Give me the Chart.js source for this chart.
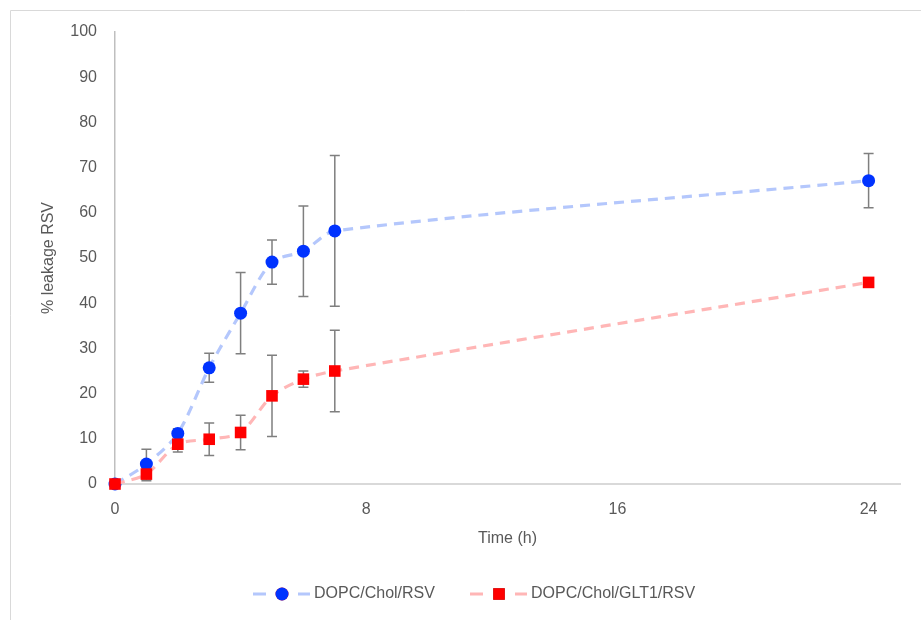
<!DOCTYPE html>
<html>
<head>
<meta charset="utf-8">
<script src="https://cdn.jsdelivr.net/npm/chart.js@4/dist/chart.umd.min.js"></script>
<style>
html,body{margin:0;padding:0;background:#fff;}
#wrap{position:relative;width:921px;height:620px;}
</style>
</head>
<body>
<div id="wrap"><canvas id="c" width="921" height="620"></canvas></div>
<script>
const times = [0, 1, 2, 3, 4, 5, 6, 7, 24];
const blueValues = [0, 4.4, 11.2, 25.7, 37.8, 49.1, 51.5, 56.0, 67.1];
const blueErrors = [0, 3.3, 1.0, 3.2, 9.0, 4.9, 10.0, 16.7, 6.0];
const redValues = [0, 2.2, 8.8, 9.9, 11.4, 19.5, 23.2, 25.0, 44.6];
const redErrors = [0, 1.5, 1.7, 3.6, 3.8, 9.0, 1.8, 9.0, 0.4];
const xTicks = [0, 8, 16, 24];
const seriesNames = ['DOPC/Chol/RSV', 'DOPC/Chol/GLT1/RSV'];

const FONT = "'Liberation Sans', Arial, sans-serif";
const TXT = '#595959';

function pts(vals, errs) {
  return times.map((t, i) => ({x: t, y: vals[i], err: errs[i]}));
}

const errorBarPlugin = {
  id: 'errorBars',
  beforeDatasetsDraw(chart) {
    const ctx = chart.ctx, xs = chart.scales.x, ys = chart.scales.y;
    ctx.save();
    ctx.strokeStyle = '#7f7f7f';
    ctx.lineWidth = 1.5;
    chart.data.datasets.forEach(ds => {
      ds.data.forEach(p => {
        if (!p.err) return;
        const x = xs.getPixelForValue(p.x);
        const y1 = ys.getPixelForValue(p.y + p.err);
        const y2 = ys.getPixelForValue(Math.max(0, p.y - p.err));
        ctx.beginPath();
        ctx.moveTo(x, y1); ctx.lineTo(x, y2);
        ctx.moveTo(x - 5, y1); ctx.lineTo(x + 5, y1);
        ctx.moveTo(x - 5, y2); ctx.lineTo(x + 5, y2);
        ctx.stroke();
      });
    });
    ctx.restore();
  }
};

const framePlugin = {
  id: 'frame',
  beforeDraw(chart) {
    const ctx = chart.ctx;
    ctx.save();
    ctx.strokeStyle = '#d9d9d9';
    ctx.lineWidth = 1;
    ctx.beginPath();
    ctx.moveTo(10.5, 620); ctx.lineTo(10.5, 10.5); ctx.lineTo(921, 10.5);
    ctx.stroke();
    ctx.restore();
  },
  afterDraw(chart) {
    const ctx = chart.ctx;
    const y = 594;
    const items = [
      {x0: 253, ds: chart.data.datasets[0]},
      {x0: 470, ds: chart.data.datasets[1]}
    ];
    ctx.save();
    items.forEach((it, i) => {
      const ds = it.ds;
      ctx.strokeStyle = ds.borderColor;
      ctx.lineWidth = 3;
      ctx.beginPath();
      ctx.moveTo(it.x0, y); ctx.lineTo(it.x0 + 13, y);
      ctx.moveTo(it.x0 + 45, y); ctx.lineTo(it.x0 + 57, y);
      ctx.stroke();
      Chart.helpers.drawPoint(ctx, {
        pointStyle: ds.pointStyle, radius: ds.pointRadius, rotation: 0, borderWidth: 0
      }, it.x0 + 29, y);
      ctx.fillStyle = ds.pointBackgroundColor;
      ctx.fill();
      ctx.fillStyle = TXT;
      ctx.font = '16px ' + FONT;
      ctx.textBaseline = 'middle';
      ctx.textAlign = 'left';
      ctx.fillText(seriesNames[i], it.x0 + 61, y);
    });
    ctx.restore();
  }
};

new Chart(document.getElementById('c'), {
  type: 'scatter',
  data: {
    datasets: [
      {
        label: seriesNames[0],
        data: pts(blueValues, blueErrors),
        showLine: true,
        order: 1,
        clip: false,
        borderColor: '#b4c7fc',
        borderWidth: 3.2,
        borderDash: [10, 7],
        tension: 0.3,
        pointStyle: 'circle',
        pointRadius: 6.5,
        pointBackgroundColor: '#0033ff',
        pointBorderColor: '#0033ff',
        pointBorderWidth: 0,
        pointHoverRadius: 6.5
      },
      {
        label: seriesNames[1],
        data: pts(redValues, redErrors),
        showLine: true,
        order: 0,
        clip: false,
        borderColor: '#ffb6b6',
        borderWidth: 3.2,
        borderDash: [10, 7],
        tension: 0.3,
        pointStyle: 'rect',
        pointRadius: 8.2,
        pointBackgroundColor: '#ff0000',
        pointBorderColor: '#ff0000',
        pointBorderWidth: 0,
        pointHoverRadius: 8.2
      }
    ]
  },
  options: {
    responsive: false,
    animation: false,
    layout: {padding: {top: 32, right: 21, left: 0, bottom: 0}},
    plugins: {legend: {display: false}, tooltip: {enabled: false}},
    scales: {
      x: {
        type: 'linear',
        min: 0,
        max: 25,
        afterBuildTicks(scale) { scale.ticks = xTicks.map(v => ({value: v})); },
        afterFit(scale) { scale.height = 136; },
        grid: {display: false, drawTicks: false},
        border: {display: true, color: '#d9d9d9', width: 2},
        ticks: {padding: 16, color: TXT, font: {family: FONT, size: 16}, maxRotation: 0},
        title: {display: true, text: 'Time (h)', color: TXT, font: {family: FONT, size: 16},
                padding: {top: 0, bottom: 72}}
      },
      y: {
        min: 0,
        max: 100,
        afterFit(scale) { scale.width = 115; },
        grid: {display: false, drawTicks: false},
        border: {display: true, color: '#bfbfbf', width: 1.5},
        ticks: {stepSize: 10, padding: 18, color: TXT, font: {family: FONT, size: 16}},
        title: {display: true, text: '% leakage RSV', color: TXT, font: {family: FONT, size: 16},
                padding: {top: 39, bottom: 0}}
      }
    }
  },
  plugins: [errorBarPlugin, framePlugin]
});
</script>
</body>
</html>
